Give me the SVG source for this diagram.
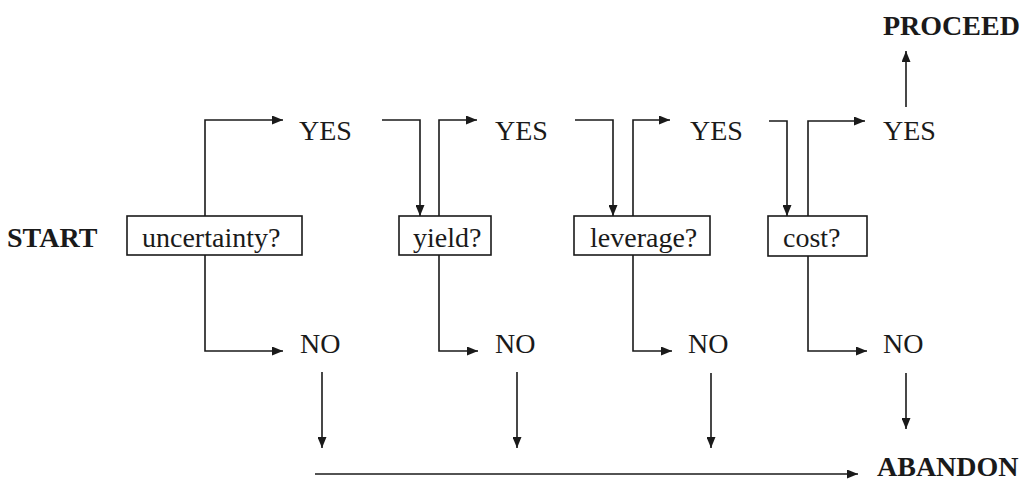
<svg xmlns="http://www.w3.org/2000/svg" width="1026" height="483" viewBox="0 0 1026 483">
<style>
.lbl{font-family:"Liberation Serif","Times New Roman",serif;font-size:28px;fill:#1a1a1a}
.bold{font-weight:bold}
.box{fill:#fff;stroke:#1a1a1a;stroke-width:1.6}
.c{fill:none;stroke:#1a1a1a;stroke-width:1.6}
.a{marker-end:url(#ah)}
</style>
<defs>
<marker id="ah" viewBox="0 0 11 9" refX="11" refY="4.5" markerWidth="11" markerHeight="9" markerUnits="userSpaceOnUse" orient="auto">
<path d="M0,0 L11,4.5 L0,9 z" fill="#1a1a1a"/>
</marker>
</defs>
<rect width="1026" height="483" fill="#fff"/>
<g id="connectors">
<path class="c a" d="M205,216 V120 H283"/>
<path class="c a" d="M205,255 V351 H283"/>
<path class="c a" d="M382,120 H420 V216"/>
<path class="c a" d="M439,216 V120 H477"/>
<path class="c a" d="M439,255 V351 H478"/>
<path class="c a" d="M575,120 H613 V216"/>
<path class="c a" d="M633,216 V120 H670"/>
<path class="c a" d="M633,255 V351 H672"/>
<path class="c a" d="M769,121 H787 V216"/>
<path class="c a" d="M808,216 V121 H865"/>
<path class="c a" d="M808,256 V351 H867"/>
<path class="c a" d="M906,107 V51"/>
<path class="c a" d="M322,372 V448"/>
<path class="c a" d="M517,372 V448"/>
<path class="c a" d="M711,373 V448"/>
<path class="c a" d="M906,373 V429"/>
<path class="c a" d="M315,474 H858"/>
</g>
<g id="start"><text class="lbl bold" x="7" y="247">START</text></g>
<g id="uncertainty"><rect class="box" x="127" y="216" width="175" height="39"/><text class="lbl" x="142" y="247">uncertainty?</text></g>
<g id="yield"><rect class="box" x="399" y="216" width="92" height="39"/><text class="lbl" x="413" y="247">yield?</text></g>
<g id="leverage"><rect class="box" x="574" y="216" width="136" height="39"/><text class="lbl" x="590" y="247">leverage?</text></g>
<g id="cost"><rect class="box" x="768" y="216" width="99" height="40"/><text class="lbl" x="783" y="247">cost?</text></g>
<g id="yes1"><text class="lbl" x="299" y="140">YES</text></g>
<g id="yes2"><text class="lbl" x="495" y="140">YES</text></g>
<g id="yes3"><text class="lbl" x="690" y="140">YES</text></g>
<g id="yes4"><text class="lbl" x="883" y="140">YES</text></g>
<g id="no1"><text class="lbl" x="300" y="353">NO</text></g>
<g id="no2"><text class="lbl" x="495" y="353">NO</text></g>
<g id="no3"><text class="lbl" x="688" y="353">NO</text></g>
<g id="no4"><text class="lbl" x="883" y="353">NO</text></g>
<g id="proceed"><text class="lbl bold" x="883" y="35">PROCEED</text></g>
<g id="abandon"><text class="lbl bold" x="877" y="476">ABANDON</text></g>
</svg>
